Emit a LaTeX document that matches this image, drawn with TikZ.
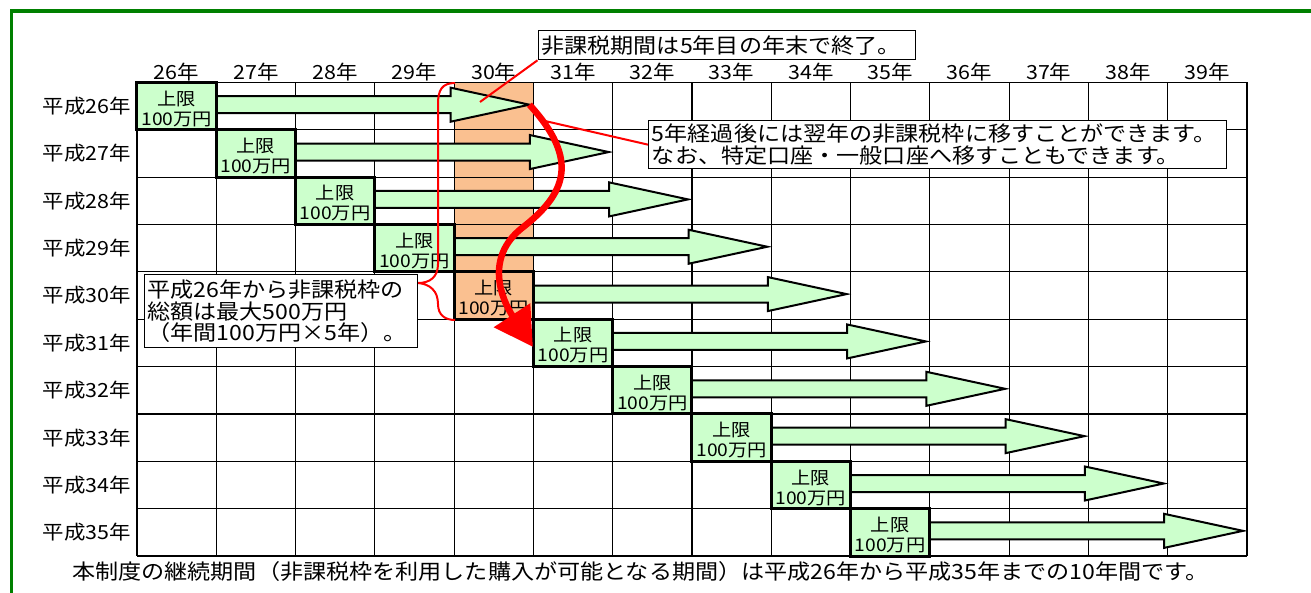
\documentclass[tikz,border=0pt]{standalone}
\usepackage{fontspec}
\setmainfont{Noto Sans CJK JP}[FakeStretch=1.1]
\usetikzlibrary{arrows.meta,calc}
\definecolor{lgreen}{HTML}{CCFFCC}
\definecolor{orng}{HTML}{FAC090}
\definecolor{fgreen}{HTML}{008000}
\newcommand\fsz[2]{\fontsize{#1}{#2}\selectfont}
\begin{document}
\begin{tikzpicture}[x=1pt,y=-1pt,
  gridline/.style={black,line width=1.2pt},
  hdr/.style={inner sep=0pt,font=\fsz{19.5pt}{21pt}},
  rowlab/.style={inner sep=0pt,anchor=east,font=\fsz{19.5pt}{21pt}},
  yearbox/.style={draw=black,line width=3pt,fill=lgreen,minimum width=79.3pt,minimum height=47.35pt,inner sep=0pt},
  boxtext/.style={inner sep=0pt,align=center,font=\fsz{17.5pt}{20pt}},
  bigarrow/.style={draw=black,line width=2pt,fill=lgreen,line join=miter},
  callout/.style={draw=black,line width=1.3pt,fill=white,align=left,inner xsep=3.25pt,inner ysep=0pt,anchor=north west,font=\fsz{21pt}{22pt}},
  redline/.style={red,line width=2pt},
  redthick/.style={red,line width=6.5pt,-{Triangle[length=38pt,width=42pt]}}
]
\useasboundingbox (0,0) rectangle (1311,593);
\fill[white] (0,0) rectangle (1311,593);
% frame
\draw[fgreen,line width=3.5pt] (11.5,593) -- (11.5,11) -- (1311,11);
% orange column
\fill[orng] (455.1,82.5) rectangle (534.4,318.9);
% grid
\foreach \j in {0,...,14} \draw[gridline] ({137+79.286*\j},82.5) -- ({137+79.286*\j},556);
\foreach \i in {0,...,10} \draw[gridline] (137,{82.5+47.35*\i}) -- (1247,{82.5+47.35*\i});
% headers
\foreach \j in {0,...,13}{
  \pgfmathtruncatemacro\yr{26+\j}
  \node[hdr] (h\j) at ({176.6+79.286*\j},72) {\yr{}年};
}
% row labels
\foreach \i in {0,...,9}{
  \pgfmathtruncatemacro\yr{26+\i}
  \node[rowlab] (r\i) at (131,{106.2+47.35*\i}) {平成\yr{}年};
}
% arrows
\foreach \i in {0,...,9}{
  \pgfmathsetmacro\xa{137+79.286*(\i+1)-2}
  \pgfmathsetmacro\xb{137+79.286*(\i+4)-3.5}
  \pgfmathsetmacro\xt{137+79.286*(\i+5)-4}
  \pgfmathsetmacro\c{106.2+47.35*\i-1.5}
  \draw[bigarrow] (\xa,\c-8.5) -- (\xb,\c-8.5) -- (\xb,\c-17) -- (\xt,\c) -- (\xb,\c+17) -- (\xb,\c+8.5) -- (\xa,\c+8.5) -- cycle;
  \coordinate (tip\i) at (\xt,\c);
}
% boxes
\foreach \i in {0,...,9}{
  \ifnum\i=4
    \node[yearbox,fill=orng] (b\i) at ({176.6+79.286*\i},{106.2+47.35*\i}) {};
  \else
    \node[yearbox] (b\i) at ({176.6+79.286*\i},{106.2+47.35*\i}) {};
  \fi
  \node[boxtext] (t\i) at ($(b\i.center)+(0,2.5)$) {上限\\100万円};
}
% brace
\draw[redline] (455.1,83) .. controls (442,83) and (438,90) .. (438,104) -- (438,264)
  .. controls (438,277) and (430,283) .. (418,283)
  .. controls (430,284) and (438,291) .. (438,304)
  .. controls (438,315) and (445,320) .. (455.1,320);
% callouts
\node[callout,text width=371pt,minimum height=29pt] (c1) at (537.5,30) {非課税期間は5年目の年末で終了。};
\node[callout,text width=571.5pt,minimum height=48pt] (c2) at (648,120) {5年経過後には翌年の非課税枠に移すことができます。\\なお、特定口座・一般口座へ移すこともできます。};
\node[callout,text width=267pt,minimum height=73pt,font=\fsz{21pt}{21.5pt}] (c3) at (143.5,274) {平成26年から非課税枠の\\総額は最大500万円\\（年間100万円×5年）。};
% red thin lines
\coordinate (p1) at (480,102);
\coordinate (p2) at (545,121);
\draw[redline] (c1.south west) -- (p1);
\draw[redline] (c2.west) -- (p2);
% red thick curve
\draw[redthick] (tip0) .. controls (580,160) and (566,194) .. (522,228)
  .. controls (484,258) and (502,300) .. ($(b5.west)+(1,4)$);
% footer
\node[inner sep=0pt,anchor=west,font=\fsz{21pt}{22pt}] (foot) at (72,572) {本制度の継続期間（非課税枠を利用した購入が可能となる期間）は平成26年から平成35年までの10年間です。};
\end{tikzpicture}
\end{document}
